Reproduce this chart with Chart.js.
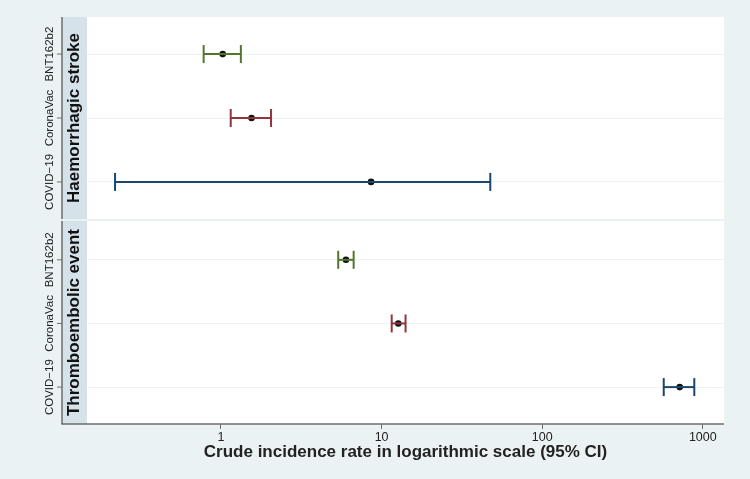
<!DOCTYPE html>
<html lang="en">
<head>
    <meta charset="UTF-8">
    <title>Crude incidence rate</title>
    <script src="https://cdn.jsdelivr.net/npm/chart.js"></script>
    <style>
        body {
            margin: 0;
            background-color: #eaf2f3;
            font-family: 'Liberation Sans', Arial, sans-serif;
        }

        #wrap {
            position: relative;
            width: 750px;
            height: 479px;
        }

        canvas {
            position: absolute;
            left: 0;
        }

        #chartTop { top: 17px; }
        #chartBottom { top: 221px; }
    </style>
</head>
<body>

    <div id="wrap">
        <canvas id="chartTop" width="750" height="202"></canvas>
        <canvas id="chartBottom" width="750" height="258"></canvas>
    </div>

    <script>
        // categories (top to bottom inside each panel)
        const categories = ['BNT162b2', 'CoronaVac', 'COVID\u221219'];
        const seriesColors = ['#55752f', '#90353b', '#1a476f'];
        const panelTitles = ['Haemorrhagic stroke', 'Thromboembolic event'];

        // Haemorrhagic stroke
        const haemRate = [1.025, 1.55, 8.6];
        const haemLow = [0.78, 1.15, 0.219];
        const haemHigh = [1.33, 2.05, 47.5];

        // Thromboembolic event
        const thromboRate = [6.0, 12.7, 718];
        const thromboLow = [5.37, 11.56, 571];
        const thromboHigh = [6.70, 14.1, 885];

        const xTicks = [1, 10, 100, 1000];
        const xTickLabels = ['1', '10', '100', '1000'];
        const xMin = 0.1465;
        const xMax = 1355;

        const axisColor = '#6d6d6d';

        function makeDatasets(rate, low, high) {
            const sets = [];
            categories.forEach(function (c, i) {
                sets.push({
                    label: c + ' CI',
                    data: [{ x: low[i], y: i }, { x: high[i], y: i }],
                    showLine: true,
                    borderColor: seriesColors[i],
                    borderWidth: 2,
                    pointStyle: 'line',
                    pointRotation: 90,
                    pointRadius: 9,
                    pointBorderColor: seriesColors[i],
                    pointBorderWidth: 2,
                    pointHoverRadius: 9
                });
            });
            categories.forEach(function (c, i) {
                sets.push({
                    label: c,
                    data: [{ x: rate[i], y: i }],
                    pointRadius: 3.3,
                    pointBackgroundColor: '#111',
                    pointBorderColor: '#111',
                    pointBorderWidth: 0
                });
            });
            return sets;
        }

        // backgrounds, strip, y axis line and rotated labels
        function panelPlugin(title, withBottomLine) {
            return {
                id: 'panelDecor',
                beforeDraw: function (chart) {
                    const ctx = chart.ctx;
                    const a = chart.chartArea;
                    ctx.save();
                    ctx.fillStyle = '#ffffff';
                    ctx.fillRect(a.left, a.top, a.right - a.left, a.bottom - a.top);
                    ctx.fillStyle = '#d6e2e9';
                    ctx.fillRect(62, a.top, a.left - 62, a.bottom - a.top);
                    ctx.restore();
                },
                afterDraw: function (chart) {
                    const ctx = chart.ctx;
                    const a = chart.chartArea;
                    const y = chart.scales.y;
                    ctx.save();
                    ctx.strokeStyle = axisColor;
                    ctx.lineWidth = 1.5;
                    ctx.beginPath();
                    ctx.moveTo(62, a.top);
                    ctx.lineTo(62, a.bottom);
                    ctx.stroke();
                    if (withBottomLine) {
                        ctx.beginPath();
                        ctx.moveTo(61.25, a.bottom);
                        ctx.lineTo(a.right, a.bottom);
                        ctx.stroke();
                    }
                    ctx.lineWidth = 1;
                    categories.forEach(function (c, i) {
                        const py = y.getPixelForValue(i);
                        ctx.beginPath();
                        ctx.moveTo(57, py);
                        ctx.lineTo(62, py);
                        ctx.stroke();
                        ctx.save();
                        ctx.translate(50, py);
                        ctx.rotate(-Math.PI / 2);
                        ctx.fillStyle = '#222';
                        ctx.font = "11.5px 'Liberation Sans', Arial, sans-serif";
                        ctx.textAlign = 'center';
                        ctx.textBaseline = 'middle';
                        ctx.fillText(c, 0, 0);
                        ctx.restore();
                    });
                    ctx.translate(74, (a.top + a.bottom) / 2);
                    ctx.rotate(-Math.PI / 2);
                    ctx.fillStyle = '#111';
                    ctx.font = "bold 17px 'Liberation Sans', Arial, sans-serif";
                    ctx.textAlign = 'center';
                    ctx.textBaseline = 'middle';
                    ctx.fillText(title, 0, 0);
                    ctx.restore();
                }
            };
        }

        function makeOptions(showX, yMin) {
            return {
                responsive: false,
                animation: false,
                layout: { autoPadding: false, padding: { left: 0, right: 26, top: 0, bottom: 0 } },
                plugins: {
                    legend: { display: false },
                    title: { display: false },
                    tooltip: { enabled: false }
                },
                scales: {
                    x: {
                        type: 'logarithmic',
                        display: showX,
                        min: xMin,
                        max: xMax,
                        afterBuildTicks: function (axis) {
                            axis.ticks = xTicks.map(v => ({ value: v }));
                        },
                        afterFit: function (axis) {
                            axis.height = showX ? 55 : 0;
                        },
                        border: { display: false },
                        grid: {
                            drawOnChartArea: false,
                            drawTicks: true,
                            tickLength: 5,
                            color: axisColor,
                            lineWidth: 1
                        },
                        ticks: {
                            padding: 1,
                            color: '#222',
                            maxRotation: 0,
                            autoSkip: false,
                            font: { family: "'Liberation Sans', Arial, sans-serif", size: 12.5 },
                            callback: function (value) {
                                const k = xTicks.indexOf(value);
                                return k >= 0 ? xTickLabels[k] : '';
                            }
                        },
                        title: {
                            display: true,
                            text: 'Crude incidence rate in logarithmic scale (95% CI)',
                            color: '#222',
                            padding: { top: 0, bottom: 16 },
                            font: { family: "'Liberation Sans', Arial, sans-serif", size: 17, weight: 'bold' }
                        }
                    },
                    y: {
                        type: 'linear',
                        reverse: true,
                        min: yMin,
                        max: 2.58,
                        afterBuildTicks: function (axis) {
                            axis.ticks = categories.map((c, i) => ({ value: i }));
                        },
                        afterFit: function (axis) {
                            axis.width = 87;
                        },
                        border: { display: false },
                        grid: {
                            color: '#eaf2f3',
                            lineWidth: 1,
                            drawTicks: false
                        },
                        ticks: { display: false }
                    }
                }
            };
        }

        new Chart(document.getElementById('chartTop'), {
            type: 'scatter',
            data: { datasets: makeDatasets(haemRate, haemLow, haemHigh) },
            options: makeOptions(false, -0.58),
            plugins: [panelPlugin(panelTitles[0], false)]
        });

        new Chart(document.getElementById('chartBottom'), {
            type: 'scatter',
            data: { datasets: makeDatasets(thromboRate, thromboLow, thromboHigh) },
            options: makeOptions(true, -0.61),
            plugins: [panelPlugin(panelTitles[1], true)]
        });
    </script>
</body>
</html>
